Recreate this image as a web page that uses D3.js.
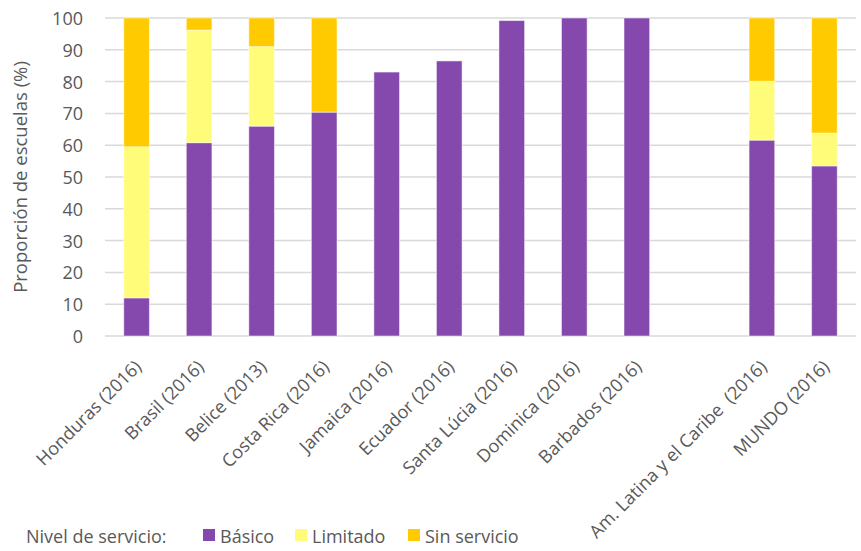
<!DOCTYPE html>
<html>
<head>
  <meta charset="UTF-8">
  <title>Proporción de escuelas por nivel de servicio</title>
  <script src="https://d3js.org/d3.v7.min.js"></script>
  <style>
    body { margin: 0; padding: 0; background: #fff; }
    svg text { font-family: 'Open Sans', 'DejaVu Sans', sans-serif; fill: #595959; white-space: pre; }
  </style>
</head>
<body>
  <svg id="chart" width="861" height="551"></svg>
  <script>
    // categories (the empty one is the blank slot before the regional totals)
    const categories = ["Honduras (2016)", "Brasil (2016)", "Belice (2013)", "Costa Rica (2016)",
      "Jamaica (2016)", "Ecuador (2016)", "Santa Lúcia (2016)", "Dominica (2016)", "Barbados (2016)",
      "", "Am. Latina y el Caribe  (2016)", "MUNDO (2016)"];
    const basico      = [12.0, 60.8, 66.0, 70.4, 83.0, 86.5, 99.2, 100, 100, 0, 61.6, 53.5];
    const limitado    = [47.5, 35.4, 25.0,  0,    0,    0,    0,    0,   0,  0, 18.5, 10.3];
    const sinServicio = [40.5,  3.8,  9.0, 29.6,  0,    0,    0,    0,   0,  0, 19.9, 36.2];
    const seriesNames = ["Básico", "Limitado", "Sin servicio"];
    const seriesColors = ["#8548ad", "#fffc7a", "#ffcb00"];
    const yTicks = [0, 10, 20, 30, 40, 50, 60, 70, 80, 90, 100];

    const rows = categories.map(function(c, i) {
      return { cat: c, key: "c" + i, "Básico": basico[i], "Limitado": limitado[i], "Sin servicio": sinServicio[i] };
    });

    const svg = d3.select("#chart");
    const mLeft = 105, mRight = 856, mTop = 18, mBottom = 336;

    const x = d3.scaleBand()
      .domain(rows.map(function(d) { return d.key; }))
      .range([mLeft, mRight])
      .paddingInner(0.59)
      .paddingOuter(0.3);

    const y = d3.scaleLinear().domain([0, 100]).range([mBottom, mTop]);

    // grid
    svg.append("g")
      .selectAll("line")
      .data(yTicks)
      .join("line")
      .attr("x1", mLeft)
      .attr("x2", mRight)
      .attr("y1", function(d) { return y(d); })
      .attr("y2", function(d) { return y(d); })
      .attr("stroke", "#d9d9d9")
      .attr("stroke-width", 1.5);

    // y axis labels
    const yAxis = svg.append("g")
      .attr("transform", `translate(${mLeft - 22},0)`)
      .call(d3.axisLeft(y).tickValues(yTicks).tickSize(0).tickPadding(0));
    yAxis.select(".domain").remove();
    yAxis.selectAll("text")
      .style("font-size", "18px")
      .attr("dy", "0.36em");

    svg.append("text")
      .attr("transform", `translate(27,${(mTop + mBottom) / 2}) rotate(-90)`)
      .attr("text-anchor", "middle")
      .style("font-size", "18.5px")
      .text("Proporción de escuelas (%)");

    // stacked bars
    const stack = d3.stack().keys(seriesNames);
    const layers = stack(rows);

    svg.append("g")
      .selectAll("g")
      .data(layers)
      .join("g")
      .attr("fill", function(d, i) { return seriesColors[i]; })
      .selectAll("rect")
      .data(function(d) { return d.filter(function(p) { return p[1] - p[0] > 0; }); })
      .join("rect")
      .attr("x", function(d) { return x(d.data.key); })
      .attr("width", x.bandwidth())
      .attr("y", function(d) { return y(d[1]); })
      .attr("height", function(d) { return y(d[0]) - y(d[1]); })
      .attr("stroke", "#ffffff")
      .attr("stroke-opacity", 0.5)
      .attr("stroke-width", 1);

    // x labels
    const xAxis = svg.append("g")
      .attr("transform", `translate(0,${mBottom})`)
      .call(d3.axisBottom(x).tickSize(0).tickPadding(0)
        .tickFormat(function(k) { return rows.find(function(r) { return r.key === k; }).cat; }));
    xAxis.select(".domain").remove();
    xAxis.selectAll("text")
      .style("font-size", "18px")
      .attr("text-anchor", "end")
      .attr("dy", "0")
      .attr("transform", "translate(6,32) rotate(-45)")
      .attr("x", 0)
      .attr("y", 0);

    // legend
    const legend = svg.append("g").attr("transform", "translate(0,543)");
    legend.append("text")
      .attr("x", 26)
      .attr("y", 0)
      .style("font-size", "18px")
      .text("Nivel de servicio:");
    const legendX = [203, 295, 408];
    seriesNames.forEach(function(name, i) {
      legend.append("rect")
        .attr("x", legendX[i])
        .attr("y", -14)
        .attr("width", 12)
        .attr("height", 12)
        .attr("fill", seriesColors[i]);
      legend.append("text")
        .attr("x", legendX[i] + 17)
        .attr("y", 0)
        .style("font-size", "18px")
        .text(name);
    });
  </script>
</body>
</html>
